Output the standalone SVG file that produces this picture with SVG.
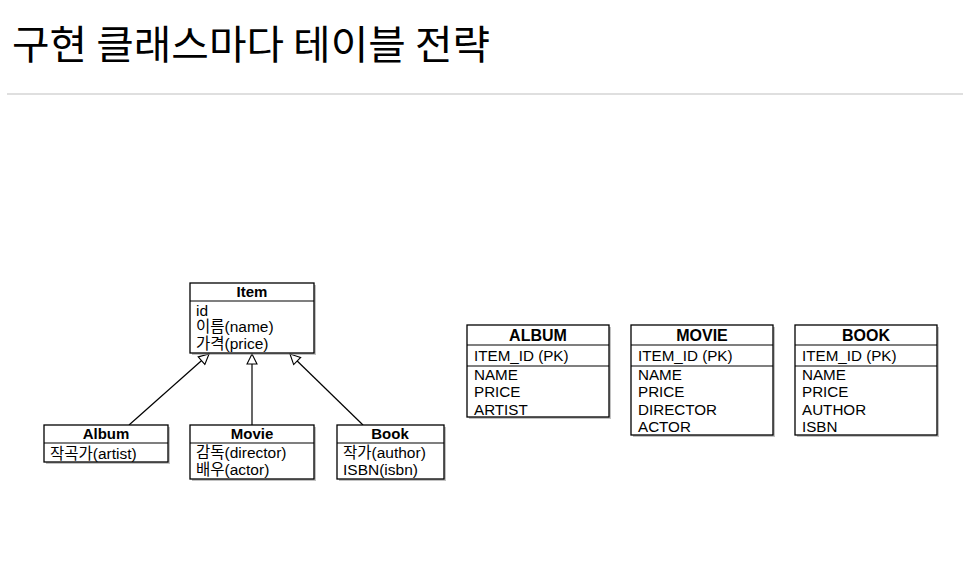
<svg xmlns="http://www.w3.org/2000/svg" width="977" height="581" viewBox="0 0 977 581">
<defs>
<style>
.t{font-family:"Liberation Sans","Noto Sans CJK KR",sans-serif;fill:#000}
.h{font-size:15px;font-weight:bold;text-anchor:middle}
.a{font-size:15.5px}
.th{font-size:16px;font-weight:bold;text-anchor:middle}
.ta{font-size:15.2px}
.box{fill:#fff;stroke:#000;stroke-width:1.3}
.sh{fill:#999;opacity:0.6}
.ln{stroke:#000;stroke-width:1.2;fill:none}
.c{stroke:#000;stroke-width:1.2;fill:none}
</style>
<marker id="tri" viewBox="0 0 12 12" refX="11" refY="6" markerWidth="12" markerHeight="12" markerUnits="userSpaceOnUse" orient="auto">
<path d="M1,1 L11,6 L1,11 Z" fill="#fff" stroke="#000" stroke-width="1.1"/>
</marker>
</defs>
<rect width="977" height="581" fill="#fff"/>
<text x="12" y="59" style="font-family:'Noto Sans CJK KR',sans-serif;font-size:40px;fill:#000" textLength="478" lengthAdjust="spacingAndGlyphs">구현 클래스마다 테이블 전략</text>
<line x1="7" y1="94" x2="963" y2="94" stroke="#c0c0c0" stroke-width="1.2"/>

<g id="connectors">
<line class="c" x1="129" y1="425" x2="209" y2="354" marker-end="url(#tri)"/>
<line class="c" x1="252" y1="425" x2="252" y2="354" marker-end="url(#tri)"/>
<line class="c" x1="363" y1="425" x2="290" y2="354" marker-end="url(#tri)"/>
</g>

<g id="item">
<rect class="sh" x="192" y="285" width="124" height="70"/>
<rect class="box" x="190" y="283" width="124" height="70"/>
<line class="ln" x1="190" y1="301" x2="314" y2="301"/>
<text class="t h" x="252" y="297">Item</text>
<text class="t a" x="196" y="316">id</text>
<text class="t a" x="196" y="332">이름(name)</text>
<text class="t a" x="196" y="349">가격(price)</text>
</g>

<g id="album">
<rect class="sh" x="46" y="427" width="124" height="37"/>
<rect class="box" x="44" y="425" width="124" height="37"/>
<line class="ln" x1="44" y1="443" x2="168" y2="443"/>
<text class="t h" x="106" y="439">Album</text>
<text class="t a" x="50" y="459">작곡가(artist)</text>
</g>

<g id="movie">
<rect class="sh" x="192" y="427" width="124" height="54"/>
<rect class="box" x="190" y="425" width="124" height="54"/>
<line class="ln" x1="190" y1="443" x2="314" y2="443"/>
<text class="t h" x="252" y="439">Movie</text>
<text class="t a" x="196" y="458">감독(director)</text>
<text class="t a" x="196" y="475">배우(actor)</text>
</g>

<g id="book">
<rect class="sh" x="339" y="427" width="107" height="54"/>
<rect class="box" x="337" y="425" width="107" height="54"/>
<line class="ln" x1="337" y1="443" x2="444" y2="443"/>
<text class="t h" x="390" y="439">Book</text>
<text class="t a" x="343" y="458">작가(author)</text>
<text class="t a" x="343" y="475">ISBN(isbn)</text>
</g>

<g id="album-table">
<rect class="sh" x="469" y="327" width="142" height="92"/>
<rect class="box" x="467" y="325" width="142" height="92"/>
<line class="ln" x1="467" y1="345" x2="609" y2="345"/>
<line class="ln" x1="467" y1="366" x2="609" y2="366"/>
<text class="t th" x="538" y="341">ALBUM</text>
<text class="t ta" x="474" y="361">ITEM_ID (PK)</text>
<text class="t ta" x="474" y="380">NAME</text>
<text class="t ta" x="474" y="397">PRICE</text>
<text class="t ta" x="474" y="415">ARTIST</text>
</g>

<g id="movie-table">
<rect class="sh" x="633" y="327" width="142" height="110"/>
<rect class="box" x="631" y="325" width="142" height="110"/>
<line class="ln" x1="631" y1="345" x2="773" y2="345"/>
<line class="ln" x1="631" y1="366" x2="773" y2="366"/>
<text class="t th" x="702" y="341">MOVIE</text>
<text class="t ta" x="638" y="361">ITEM_ID (PK)</text>
<text class="t ta" x="638" y="380">NAME</text>
<text class="t ta" x="638" y="397">PRICE</text>
<text class="t ta" x="638" y="415">DIRECTOR</text>
<text class="t ta" x="638" y="432">ACTOR</text>
</g>

<g id="book-table">
<rect class="sh" x="797" y="327" width="142" height="110"/>
<rect class="box" x="795" y="325" width="142" height="110"/>
<line class="ln" x1="795" y1="345" x2="937" y2="345"/>
<line class="ln" x1="795" y1="366" x2="937" y2="366"/>
<text class="t th" x="866" y="341">BOOK</text>
<text class="t ta" x="802" y="361">ITEM_ID (PK)</text>
<text class="t ta" x="802" y="380">NAME</text>
<text class="t ta" x="802" y="397">PRICE</text>
<text class="t ta" x="802" y="415">AUTHOR</text>
<text class="t ta" x="802" y="432">ISBN</text>
</g>
</svg>
